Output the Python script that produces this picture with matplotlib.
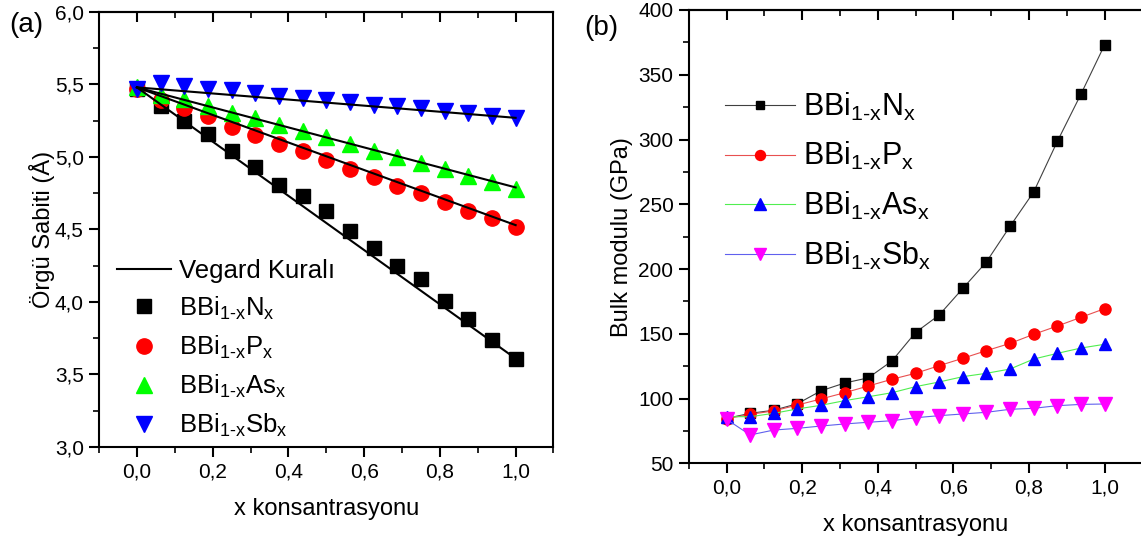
import numpy as np
import matplotlib.pyplot as plt
from matplotlib.ticker import MultipleLocator, FuncFormatter

plt.rcParams['font.family'] = ['Liberation Sans', 'DejaVu Sans']
plt.rcParams['mathtext.fontset'] = 'custom'
plt.rcParams['mathtext.rm'] = 'Liberation Sans'
plt.rcParams['mathtext.it'] = 'Liberation Sans'
plt.rcParams['mathtext.default'] = 'regular'

## DATA
x = [0.0, 0.0625, 0.125, 0.1875, 0.25, 0.3125, 0.375, 0.4375, 0.5,
     0.5625, 0.625, 0.6875, 0.75, 0.8125, 0.875, 0.9375, 1.0]

# (a) lattice constant (Angstrom)
a_N = [5.47, 5.35, 5.25, 5.16, 5.04, 4.93, 4.81, 4.73, 4.63,
       4.49, 4.37, 4.25, 4.16, 4.01, 3.88, 3.74, 3.61]
a_P = [5.47, 5.39, 5.34, 5.28, 5.21, 5.15, 5.09, 5.04, 4.98,
       4.92, 4.86, 4.80, 4.75, 4.69, 4.63, 4.58, 4.52]
a_As = [5.48, 5.43, 5.40, 5.35, 5.30, 5.27, 5.22, 5.18, 5.14,
        5.09, 5.04, 5.00, 4.96, 4.92, 4.87, 4.83, 4.78]
a_Sb = [5.47, 5.51, 5.49, 5.47, 5.46, 5.44, 5.42, 5.41, 5.39,
        5.38, 5.36, 5.35, 5.34, 5.32, 5.30, 5.28, 5.27]

# Vegard lines: value at x=0 and x=1
veg_x = [0.0, 1.0]
veg_N = [5.48, 3.61]
veg_P = [5.48, 4.53]
veg_As = [5.48, 4.79]
veg_Sb = [5.48, 5.27]

# (b) bulk modulus (GPa)
b_N = [84.7, 88.6, 91.0, 96.0, 106.0, 112.0, 116.0, 129.0, 151.0,
       164.5, 185.0, 205.5, 233.0, 259.5, 298.5, 335.0, 373.0]
b_P = [84.5, 87.8, 90.5, 95.0, 99.7, 104.5, 109.7, 114.9, 119.5,
       125.4, 131.1, 137.0, 142.6, 149.6, 156.0, 162.7, 169.4]
b_As = [86.0, 86.0, 88.6, 92.0, 94.8, 98.4, 101.4, 104.5, 109.2,
        112.8, 116.9, 119.5, 122.8, 130.5, 134.9, 139.0, 141.9]
b_Sb = [84.0, 71.9, 75.7, 77.0, 78.8, 80.4, 81.7, 82.9, 85.2,
        86.8, 88.1, 89.4, 91.7, 92.5, 94.5, 95.5, 95.8]

lab_N = '$BBi_{1\u2010x}N_x$'
lab_P = '$BBi_{1\u2010x}P_x$'
lab_As = '$BBi_{1\u2010x}As_x$'
lab_Sb = '$BBi_{1\u2010x}Sb_x$'

comma = FuncFormatter(lambda v, p: ('%.1f' % v).replace('.', ','))


def style_axes(ax):
    for s in ax.spines.values():
        s.set_linewidth(1.5)
    ax.tick_params(which='major', direction='out', length=7, width=1.5,
                   labelsize=15, pad=4)
    ax.tick_params(which='minor', direction='out', length=4, width=1.2)
    ax.xaxis.set_major_locator(MultipleLocator(0.2))
    ax.xaxis.set_minor_locator(MultipleLocator(0.1))
    ax.xaxis.set_major_formatter(comma)
    top = ax.secondary_xaxis('top')
    top.xaxis.set_major_locator(MultipleLocator(0.2))
    top.xaxis.set_minor_locator(MultipleLocator(0.1))
    top.tick_params(which='major', direction='in', length=7, width=1.5,
                    labeltop=False)
    top.tick_params(which='minor', direction='in', length=4, width=1.2)
    top.spines['top'].set_linewidth(1.5)


fig = plt.figure(figsize=(11.41, 5.37), dpi=100)

## PANEL (a)
ax1 = fig.add_axes([0.0868, 0.1676, 0.3983, 0.8101])
ax1.plot(veg_x, veg_N, '-k', lw=1.5, zorder=4, label='Vegard Kuralı')
ax1.plot(veg_x, veg_P, '-k', lw=1.5, zorder=4)
ax1.plot(veg_x, veg_As, '-k', lw=1.5, zorder=4)
ax1.plot(veg_x, veg_Sb, '-k', lw=1.5, zorder=4)
ax1.plot(x, a_N, 's', color='black', ms=9.5, ls='none', label=lab_N, zorder=3)
ax1.plot(x, a_P, 'o', color='#ff0000', ms=11, ls='none', label=lab_P, zorder=3)
ax1.plot(x, a_As, '^', color='#00ff00', ms=12, ls='none', label=lab_As, zorder=3)
ax1.plot(x, a_Sb, 'v', color='#0000ff', ms=12, ls='none', label=lab_Sb, zorder=3)
ax1.set_xlim(-0.1, 1.1)
ax1.set_ylim(3.0, 6.0)
style_axes(ax1)
ax1.yaxis.set_major_locator(MultipleLocator(0.5))
ax1.yaxis.set_minor_locator(MultipleLocator(0.25))
ax1.yaxis.set_major_formatter(comma)
ax1.set_xlabel('x konsantrasyonu', fontsize=17, labelpad=12)
ax1.set_ylabel('Örgü Sabiti (Å)', fontsize=17, labelpad=0)
ax1.legend(loc='lower left', bbox_to_anchor=(0.04, 0.019), frameon=False,
           fontsize=18.5, handlelength=2.1, handletextpad=0.3,
           labelspacing=0.46, borderpad=0, borderaxespad=0)
fig.text(0.008, 0.953, '(a)', fontsize=20, va='center', ha='left')

## PANEL (b)
ax2 = fig.add_axes([0.6036, 0.1372, 0.3976, 0.8442])
ax2.plot(x, b_N, '-', color='#404040', lw=0.8, marker='s', mfc='black',
         mec='black', ms=7, label=lab_N)
ax2.plot(x, b_P, '-', color='#e85050', lw=0.8, marker='o', mfc='#ff0000',
         mec='#ff0000', ms=8, label=lab_P)
ax2.plot(x, b_As, '-', color='#50ee50', lw=0.8, marker='^', mfc='#0000ff',
         mec='#0000ff', ms=9, label=lab_As)
ax2.plot(x, b_Sb, '-', color='#6060ee', lw=0.8, marker='v', mfc='#ff00ff',
         mec='#ff00ff', ms=9.5, label=lab_Sb)
ax2.set_xlim(-0.1, 1.1)
ax2.set_ylim(50, 400)
style_axes(ax2)
ax2.spines['right'].set_visible(False)
ax2.yaxis.set_major_locator(MultipleLocator(50))
ax2.yaxis.set_minor_locator(MultipleLocator(25))
ax2.yaxis.set_major_formatter(FuncFormatter(lambda v, p: '%d' % v))
ax2.set_xlabel('x konsantrasyonu', fontsize=17, labelpad=12)
ax2.set_ylabel('Bulk modulu (GPa)', fontsize=17, labelpad=4)
ax2.legend(loc='upper left', bbox_to_anchor=(0.08, 0.8225), frameon=False,
           fontsize=22, handlelength=2.3, handletextpad=0.25,
           labelspacing=0.58, borderpad=0, borderaxespad=0, markerscale=0.9)
fig.text(0.512, 0.948, '(b)', fontsize=20, va='center', ha='left')

plt.savefig('out.png', dpi=100)
